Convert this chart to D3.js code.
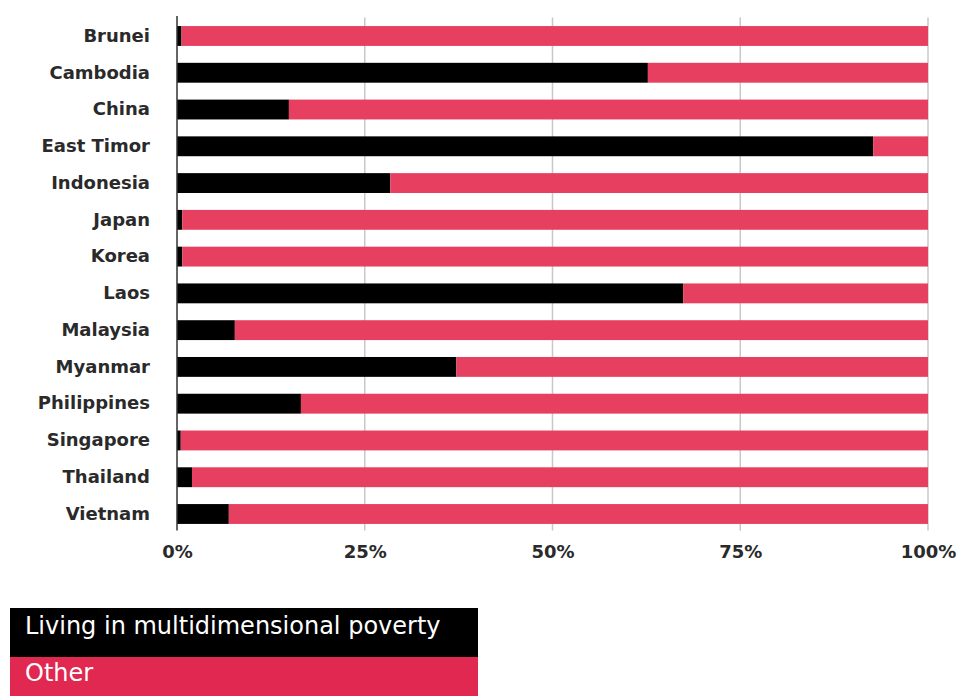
<!DOCTYPE html>
<html>
<head>
<meta charset="utf-8">
<script src="https://cdn.jsdelivr.net/npm/d3@7"></script>
<style>
  html, body { margin: 0; padding: 0; background: #fff; }
  svg { display: block; }
</style>
</head>
<body>
<svg id="chart" width="960" height="696"></svg>
<script>
// Share of population living in multidimensional poverty, by country
const countries = ["Brunei", "Cambodia", "China", "East Timor", "Indonesia", "Japan", "Korea",
  "Laos", "Malaysia", "Myanmar", "Philippines", "Singapore", "Thailand", "Vietnam"];
const povertyPct = [0.6, 62.7, 14.9, 92.7, 28.4, 0.7, 0.7, 67.4, 7.7, 37.2, 16.5, 0.5, 2.0, 6.9];
const otherPct = povertyPct.map(v => 100 - v);
const seriesNames = ["Living in multidimensional poverty", "Other"];
const tickValues = [0, 25, 50, 75, 100];

const colors = { poverty: "#000000", other: "#E63F5F", legendOther: "#E02850" };

const svg = d3.select("#chart");
const margin = { left: 177, right: 32, top: 17.6 };
const W = 960;

const rows = countries.map((c, i) => ({ country: c, poverty: povertyPct[i], other: otherPct[i] }));

const x = d3.scaleLinear().domain([0, 100]).range([margin.left, W - margin.right]);
const y = d3.scaleBand().domain(countries)
  .range([margin.top, margin.top + countries.length * 36.77])
  .paddingInner(0.46).paddingOuter(0.23);

// gridlines
svg.append("g")
  .selectAll("line")
  .data(tickValues.slice(1))
  .join("line")
  .attr("x1", d => x(d)).attr("x2", d => x(d))
  .attr("y1", y.range()[0]).attr("y2", y.range()[1] - 2)
  .attr("stroke", "#c8c8c8").attr("stroke-width", 1.5);

// stacked bars
const stack = d3.stack().keys(["poverty", "other"]);
const layers = stack(rows);
svg.append("g")
  .selectAll("g")
  .data(layers)
  .join("g")
  .attr("fill", d => colors[d.key])
  .selectAll("rect")
  .data(d => d)
  .join("rect")
  .attr("x", d => x(d[0]))
  .attr("y", d => y(d.data.country))
  .attr("width", d => x(d[1]) - x(d[0]))
  .attr("height", y.bandwidth());

// zero axis line
svg.append("line")
  .attr("x1", x(0)).attr("x2", x(0))
  .attr("y1", 16).attr("y2", y.range()[1] - 2)
  .attr("stroke", "#333").attr("stroke-width", 1.5);

// category labels
const yAxis = svg.append("g")
  .attr("transform", `translate(${x(0)},0)`)
  .call(d3.axisLeft(y).tickSize(0).tickPadding(27));
yAxis.select(".domain").remove();
yAxis.selectAll("text")
  .attr("font-family", "DejaVu Sans, Verdana, sans-serif")
  .attr("font-weight", "bold")
  .attr("font-size", 18)
  .attr("fill", "#2a2a2a");

// percentage axis
const xAxis = svg.append("g")
  .attr("transform", `translate(0,${y.range()[1]})`)
  .call(d3.axisBottom(x).tickValues(tickValues).tickSize(0).tickPadding(13)
    .tickFormat(d => d + "%"));
xAxis.select(".domain").remove();
xAxis.selectAll("text")
  .attr("font-family", "DejaVu Sans, Verdana, sans-serif")
  .attr("font-weight", "bold")
  .attr("font-size", 18)
  .attr("fill", "#2a2a2a");

// legend
const legend = svg.append("g").attr("transform", "translate(10,608)");
const legendItems = [
  { name: seriesNames[0], fill: colors.poverty, y: 0, h: 49 },
  { name: seriesNames[1], fill: colors.legendOther, y: 49, h: 47 }
];
legend.selectAll("rect")
  .data(legendItems)
  .join("rect")
  .attr("x", 0).attr("y", d => d.y)
  .attr("width", 468).attr("height", d => d.h)
  .attr("fill", d => d.fill);
legend.selectAll("text")
  .data(legendItems)
  .join("text")
  .attr("x", 15)
  .attr("y", (d, i) => i === 0 ? 26 : 73)
  .attr("font-family", "DejaVu Sans, Verdana, sans-serif")
  .attr("font-size", 24)
  .attr("fill", "#fff")
  .text(d => d.name);
</script>
</body>
</html>
